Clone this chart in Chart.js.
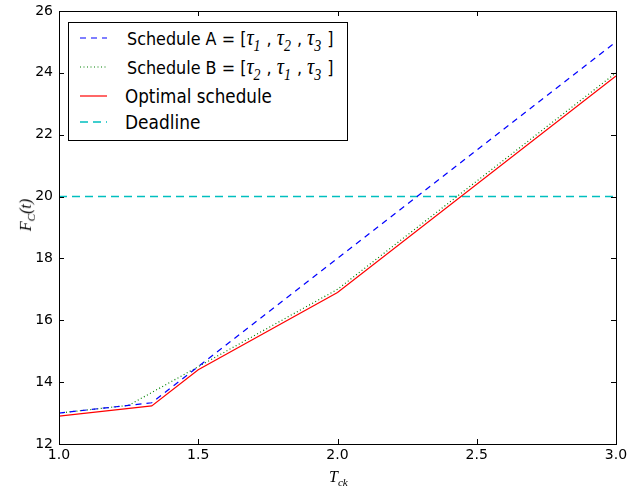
<!DOCTYPE html>
<html>
<head>
<meta charset="utf-8">
<script src="https://cdn.jsdelivr.net/npm/chart.js@4"></script>
<style>
    body { margin: 0; background: #fff; }
    #wrap { position: relative; width: 627px; height: 489px; }
    .math { font-family: 'Liberation Serif', serif; font-style: italic; }
    .math sub { font-size: 70%; }
    #legend {
        position: absolute; left: 68px; top: 22px; width: 280px; height: 119px;
        border: 1px solid #000; background: #fff; box-sizing: border-box;
        font-family: 'DejaVu Sans', sans-serif; font-size: 16px; color: #000;
    }
    .row { position: absolute; left: 0; height: 22px; line-height: 22px; white-space: nowrap; }
    .row svg { position: absolute; left: 11px; top: 10px; }
    .row span.txt { position: absolute; left: 58px; top: 0; transform: scaleY(1.12); transform-origin: 0 50%; }
    .row .math { font-size: 20px; }
    .row .gap { display: inline-block; width: 6px; }
    #ylab { position: absolute; left: 27px; top: 215px; width: 0; height: 0; }
    #ylab div { position: absolute; transform: translate(-50%, -50%) rotate(-90deg); font-size: 16px; white-space: nowrap; }
    #xlab { position: absolute; left: 329px; top: 468px; font-size: 16px; }
</style>
</head>
<body>
<div id="wrap">
    <canvas id="fcChart" width="627" height="489"></canvas>
    <div id="legend">
        <div class="row" style="top:4px">
            <svg width="27" height="2"><line x1="0" y1="1" x2="27" y2="1" stroke="#0000ff" stroke-width="1.2" stroke-dasharray="6,5"/></svg>
            <span class="txt">Schedule A = [<span class="math">τ<sub>1</sub></span><span class="gap"></span>, <span class="math">τ<sub>2</sub></span><span class="gap"></span>, <span class="math">τ<sub>3</sub></span><span class="gap"></span>]</span>
        </div>
        <div class="row" style="top:33px">
            <svg width="27" height="2"><line x1="0" y1="1" x2="27" y2="1" stroke="#008000" stroke-width="1.2" stroke-dasharray="1,2.5"/></svg>
            <span class="txt">Schedule B = [<span class="math">τ<sub>2</sub></span><span class="gap"></span>, <span class="math">τ<sub>1</sub></span><span class="gap"></span>, <span class="math">τ<sub>3</sub></span><span class="gap"></span>]</span>
        </div>
        <div class="row" style="top:62px">
            <svg width="27" height="2"><line x1="0" y1="1" x2="27" y2="1" stroke="#ff0000" stroke-width="1.2"/></svg>
            <span class="txt" style="left:56px; font-size:16.8px">Optimal schedule</span>
        </div>
        <div class="row" style="top:88px">
            <svg width="27" height="2"><line x1="0" y1="1" x2="27" y2="1" stroke="#00bfbf" stroke-width="1.4" stroke-dasharray="8,5"/></svg>
            <span class="txt" style="left:56px; font-size:17px">Deadline</span>
        </div>
    </div>
    <div id="ylab"><div class="math">F<sub>C</sub>(t)</div></div>
    <div id="xlab" class="math">T<sub>ck</sub></div>
</div>
<script>
const xA = [1.0, 1.333, 3.0];
const yA = [13.0, 13.333, 25.0];
const xB = [1.0, 1.25, 2.0, 3.0];
const yB = [13.0, 13.25, 17.0, 24.0];
const xOpt = [1.0, 1.333, 1.5, 2.0, 3.0];
const yOpt = [12.9, 13.23, 14.4, 16.9, 23.9];
const xDeadline = [1.0, 3.0];
const yDeadline = [20, 20];

const xTicks = [1.0, 1.5, 2.0, 2.5, 3.0];
const yTicks = [12, 14, 16, 18, 20, 22, 24, 26];

function pts(xs, ys) {
    return xs.map((x, i) => ({ x: x, y: ys[i] }));
}

// matplotlib style frame with inward ticks on all four sides
const frameTicks = {
    id: 'frameTicks',
    afterDatasetsDraw(chart) {
        const c = chart.ctx;
        const a = chart.chartArea;
        const xs = chart.scales.x, ys = chart.scales.y;
        c.save();
        c.strokeStyle = '#000';
        c.lineWidth = 1;
        c.beginPath();
        xTicks.forEach(v => {
            const px = Math.round(xs.getPixelForValue(v)) + 0.5;
            c.moveTo(px, a.bottom); c.lineTo(px, a.bottom - 5);
            c.moveTo(px, a.top); c.lineTo(px, a.top + 5);
        });
        yTicks.forEach(v => {
            const py = Math.round(ys.getPixelForValue(v)) + 0.5;
            c.moveTo(a.left, py); c.lineTo(a.left + 5, py);
            c.moveTo(a.right, py); c.lineTo(a.right - 5, py);
        });
        c.stroke();
        c.strokeRect(Math.round(a.left) + 0.5, Math.round(a.top) + 0.5,
            Math.round(a.right - a.left), Math.round(a.bottom - a.top));
        c.restore();
    }
};

const ctx = document.getElementById('fcChart').getContext('2d');
const fcChart = new Chart(ctx, {
    type: 'scatter',
    data: {
        datasets: [
            {
                label: 'Schedule A',
                data: pts(xA, yA),
                borderColor: '#0000ff',
                borderWidth: 1.2,
                borderDash: [6, 5],
                showLine: true,
                pointRadius: 0
            },
            {
                label: 'Schedule B',
                data: pts(xB, yB),
                borderColor: '#008000',
                borderWidth: 1.2,
                borderDash: [1, 2.5],
                showLine: true,
                pointRadius: 0
            },
            {
                label: 'Optimal schedule',
                data: pts(xOpt, yOpt),
                borderColor: '#ff0000',
                borderWidth: 1.2,
                showLine: true,
                pointRadius: 0
            },
            {
                label: 'Deadline',
                data: pts(xDeadline, yDeadline),
                borderColor: '#00bfbf',
                borderWidth: 1.4,
                borderDash: [8, 5],
                showLine: true,
                pointRadius: 0
            }
        ]
    },
    options: {
        responsive: false,
        animation: false,
        layout: {
            padding: { top: 11, right: 11, left: 0, bottom: 0 }
        },
        plugins: {
            legend: { display: false },
            tooltip: { enabled: false }
        },
        scales: {
            x: {
                type: 'linear',
                min: 1, max: 3,
                grid: { display: false, drawTicks: false },
                border: { display: false },
                afterBuildTicks: (s) => { s.ticks = xTicks.map(v => ({ value: v })); },
                afterFit: (s) => {
                    s.height = 45;
                    s.paddingLeft = 0;
                    s.paddingRight = 0;
                },
                ticks: {
                    color: '#000',
                    padding: 3,
                    maxRotation: 0,
                    font: { family: 'DejaVu Sans', size: 14 },
                    callback: (v) => v.toFixed(1)
                }
            },
            y: {
                min: 12, max: 26,
                grid: { display: false, drawTicks: false },
                border: { display: false },
                afterBuildTicks: (s) => { s.ticks = yTicks.map(v => ({ value: v })); },
                afterFit: (s) => {
                    s.width = 59;
                    s.paddingTop = 0;
                    s.paddingBottom = 0;
                },
                ticks: {
                    color: '#000',
                    padding: 6,
                    font: { family: 'DejaVu Sans', size: 14 },
                    callback: (v) => String(v)
                }
            }
        }
    },
    plugins: [frameTicks]
});
</script>
</body>
</html>
